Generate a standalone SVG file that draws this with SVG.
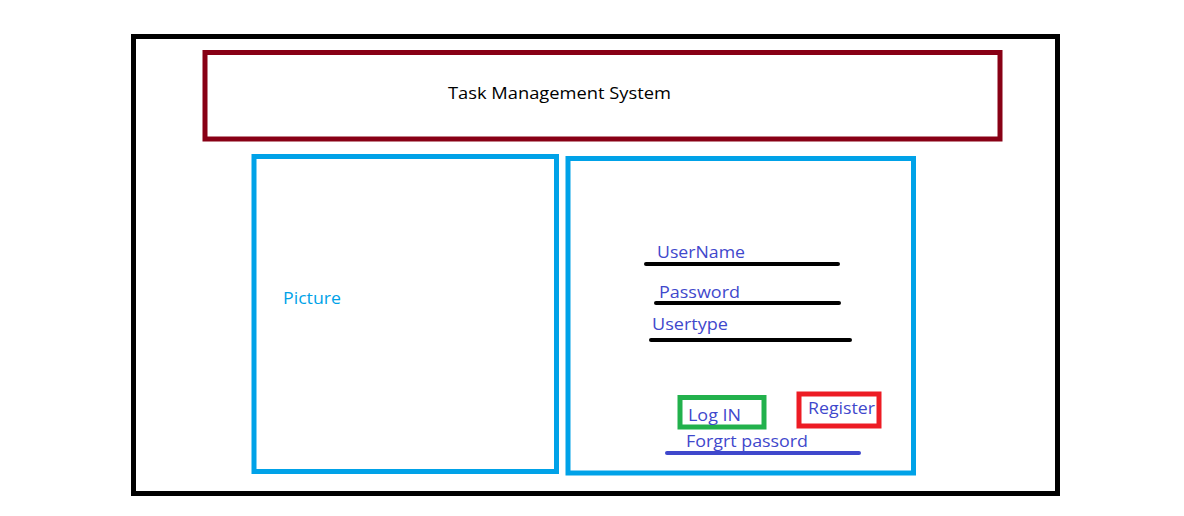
<svg xmlns="http://www.w3.org/2000/svg" width="1184" height="516" viewBox="0 0 1184 516">
<style>
.box{fill:none;stroke-width:5}
.lbl{font-family:"Open Sans","Liberation Sans",sans-serif;font-size:17px;fill:#3F48CC}
.ln{stroke-width:4;stroke-linecap:round}
</style>
<rect width="1184" height="516" fill="#fff"/>
<g id="frame"><rect class="box" x="133.5" y="36.5" width="924" height="457" stroke="#000"/></g>
<g id="header">
<rect class="box" x="205" y="52.5" width="795" height="86.5" stroke="#880015"/>
<text x="448" y="99" class="lbl" style="fill:#000" textLength="223" lengthAdjust="spacingAndGlyphs">Task Management System</text>
</g>
<g id="picture">
<rect class="box" x="254" y="156.5" width="302.5" height="315" stroke="#00A2E8"/>
<text x="283" y="304" class="lbl" style="fill:#00A2E8" textLength="58" lengthAdjust="spacingAndGlyphs">Picture</text>
</g>
<g id="form">
<rect class="box" x="568" y="158.5" width="345.5" height="314.5" stroke="#00A2E8"/>
</g>
<g id="username">
<text x="657" y="258" class="lbl" textLength="88" lengthAdjust="spacingAndGlyphs">UserName</text>
<line class="ln" x1="646" y1="264" x2="838" y2="264" stroke="#000"/>
</g>
<g id="password">
<text x="659" y="298" class="lbl" textLength="81" lengthAdjust="spacingAndGlyphs">Password</text>
<line class="ln" x1="656" y1="303" x2="839" y2="303" stroke="#000"/>
</g>
<g id="usertype">
<text x="652" y="330" class="lbl" textLength="76" lengthAdjust="spacingAndGlyphs">Usertype</text>
<line class="ln" x1="651" y1="340" x2="850" y2="340" stroke="#000"/>
</g>
<g id="login">
<rect class="box" x="680" y="397.5" width="84" height="29.5" stroke="#22B14C"/>
<text x="688" y="421" class="lbl" textLength="53" lengthAdjust="spacingAndGlyphs">Log IN</text>
</g>
<g id="register">
<rect class="box" x="799" y="394" width="80" height="32" stroke="#ED1C24"/>
<text x="808" y="414" class="lbl" textLength="67" lengthAdjust="spacingAndGlyphs">Register</text>
</g>
<g id="forgot">
<text x="686" y="447" class="lbl" textLength="122" lengthAdjust="spacingAndGlyphs">Forgrt passord</text>
<line class="ln" x1="667" y1="453" x2="859" y2="453" stroke="#3F48CC"/>
</g>
<g id="connectors"></g>
</svg>
